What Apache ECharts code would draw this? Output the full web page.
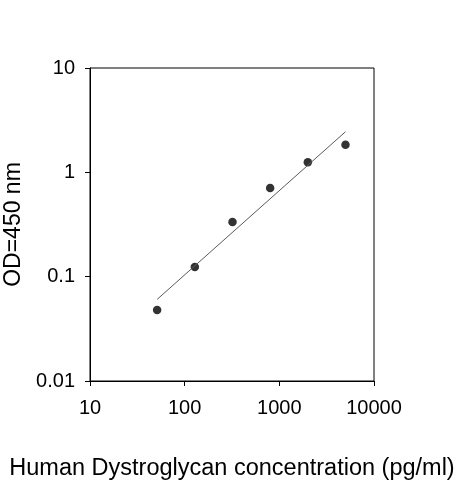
<!DOCTYPE html>
<html><head><meta charset="utf-8">
<script src="https://cdn.jsdelivr.net/npm/echarts@6/dist/echarts.min.js"></script>
<style>html,body{margin:0;padding:0;background:#fff}#c{width:463px;height:480px}</style>
</head><body><div id="c"></div>
<script>
var concentration = [51.2, 128, 320, 800, 2000, 5000];
var od = [0.048, 0.124, 0.334, 0.707, 1.25, 1.84];
var fitX = [51.2, 5000];
var fitY = [0.0606, 2.45];
var xTicks = [10, 100, 1000, 10000];
var yTicks = [0.01, 0.1, 1, 10];

var chart = echarts.init(document.getElementById('c'));
var font = 'Liberation Sans, Arial, sans-serif';
function fmt(v) { return String(+v.toPrecision(6)); }
chart.setOption({
  animation: false,
  grid: {left: 90, top: 68, width: 284, height: 313, show: true, borderColor: '#000', borderWidth: 1,
         outerBoundsMode: 'none', containLabel: false},
  xAxis: {
    type: 'log', logBase: 10, min: xTicks[0], max: xTicks[xTicks.length - 1],
    name: 'Human Dystroglycan concentration (pg/ml)', nameLocation: 'middle', nameGap: 76,
    nameTextStyle: {fontFamily: font, fontSize: 23.5, color: '#000'},
    axisLine: {lineStyle: {color: '#000', width: 1}},
    axisTick: {show: true, inside: false, length: 5, lineStyle: {color: '#000'}},
    minorTick: {show: false},
    splitLine: {show: false},
    axisLabel: {fontFamily: font, fontSize: 20, color: '#000', margin: 17, formatter: fmt}
  },
  yAxis: {
    type: 'log', logBase: 10, min: yTicks[0], max: yTicks[yTicks.length - 1],
    name: 'OD=450 nm', nameLocation: 'middle', nameGap: 57, nameRotate: 90,
    nameTextStyle: {fontFamily: font, fontSize: 23, color: '#000'},
    axisLine: {show: true, lineStyle: {color: '#000', width: 1}},
    axisTick: {show: true, inside: false, length: 5, lineStyle: {color: '#000'}},
    splitLine: {show: false},
    axisLabel: {fontFamily: font, fontSize: 20, color: '#000', margin: 15, formatter: fmt}
  },
  series: [
    {type: 'line', data: fitX.map(function (x, i) { return [x, fitY[i]]; }),
     showSymbol: false, symbol: 'none', lineStyle: {color: '#5a5a5a', width: 1}, silent: true},
    {type: 'scatter', data: concentration.map(function (x, i) { return [x, od[i]]; }),
     symbol: 'circle', symbolSize: 8.5, itemStyle: {color: '#000'}}
  ]
});
</script></body></html>
